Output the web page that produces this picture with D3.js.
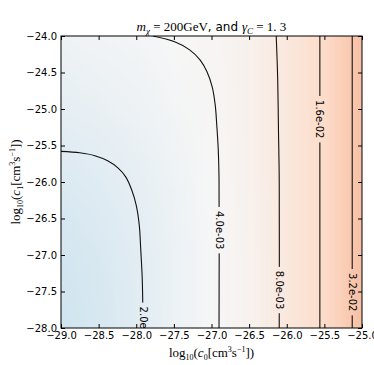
<!DOCTYPE html>
<html><head><meta charset="utf-8">
<script src="https://cdn.jsdelivr.net/npm/d3@7"></script>
<style>body{margin:0;background:#fff}svg{display:block}</style>
</head><body>
<script>
// ---- data ----
const c0Ticks = [-29.0,-28.5,-28.0,-27.5,-27.0,-26.5,-26.0,-25.5,-25.0];
const c1Ticks = [-24.0,-24.5,-25.0,-25.5,-26.0,-26.5,-27.0,-27.5,-28.0];

// background field: log10 value estimated at grid points (rows = c1, cols = c0)
const gridC0 = [-29.0,-28.5,-28.0,-27.5,-27.0,-26.5,-26.0,-25.5,-25.0];
const gridC1 = [-24,-25,-26,-27,-28];
const gridLogF = [
  [-2.62,-2.58,-2.53,-2.46,-2.40,-2.30,-2.08,-1.78,-1.38],
  [-2.78,-2.72,-2.64,-2.54,-2.43,-2.30,-2.08,-1.78,-1.38],
  [-2.98,-2.90,-2.78,-2.62,-2.46,-2.31,-2.08,-1.78,-1.38],
  [-3.12,-3.02,-2.86,-2.66,-2.48,-2.32,-2.08,-1.78,-1.38],
  [-3.18,-3.06,-2.88,-2.67,-2.48,-2.32,-2.08,-1.78,-1.38]
];

const contourLabels = ["2.0e-03","4.0e-03","8.0e-03","1.6e-02","3.2e-02"];
const contour2e3 = [[-29.00,-25.58],[-28.75,-25.60],[-28.55,-25.64],[-28.38,-25.71],[-28.24,-25.81],[-28.14,-25.93],[-28.06,-26.11],[-28.00,-26.32],[-27.96,-26.59],[-27.94,-26.93],[-27.92,-27.34],[-27.91,-28.00]];
const contour4e3 = [[-27.78,-24.00],[-27.49,-24.08],[-27.29,-24.19],[-27.15,-24.33],[-27.06,-24.49],[-26.99,-24.70],[-26.95,-24.95],[-26.93,-25.22],[-26.91,-25.56],[-26.90,-25.97],[-26.90,-28.00]];
const contour8e3 = [[-26.14,-24.00],[-26.12,-24.60],[-26.11,-25.29],[-26.10,-25.97],[-26.10,-28.00]];
const contour16e3 = [[-25.56,-24.00],[-25.56,-28.00]];
const contour32e3 = [[-25.13,-24.00],[-25.13,-28.00]];
const labelC0 = [-27.91,-26.90,-26.10,-25.56,-25.13];
const labelC1 = [-27.97,-26.66,-27.48,-25.14,-27.51];

// ---- drawing ----
const W=374,H=365,X0=61,X1=362,Y0=36,Y1=328;
const x = d3.scaleLinear().domain([-29,-25]).range([X0,X1]);
const y = d3.scaleLinear().domain([-24,-28]).range([Y0,Y1]);
const rdbuR = d3.schemeRdBu[11].slice().reverse();
const cmap = d3.scaleLinear().domain(d3.range(11).map(i=>i/10)).range(rdbuR).interpolate(d3.interpolateRgb).clamp(true);
const norm = d3.scaleLinear().domain([-6.03,1.11]).range([0,1]);

const svg = d3.select("body").append("svg").attr("width",W).attr("height",H);
const defs = svg.append("defs");
defs.append("clipPath").attr("id","plotclip").append("rect")
  .attr("x",X0).attr("y",Y0).attr("width",X1-X0).attr("height",Y1-Y0);

// heatmap via small canvas, smoothly scaled
const cv = document.createElement("canvas");
cv.width = gridC0.length; cv.height = gridC1.length;
const ctx = cv.getContext("2d");
gridLogF.forEach((row,j)=>row.forEach((v,i)=>{
  ctx.fillStyle = cmap(norm(v)); ctx.fillRect(i,j,1,1);
}));
const dc0 = gridC0[1]-gridC0[0], dc1 = gridC1[1]-gridC1[0];
svg.append("g").attr("clip-path","url(#plotclip)").append("image")
  .attr("href", cv.toDataURL())
  .attr("x", x(gridC0[0]-dc0/2)).attr("width", x(gridC0[gridC0.length-1]+dc0/2)-x(gridC0[0]-dc0/2))
  .attr("y", y(gridC1[0]-dc1/2)).attr("height", y(gridC1[gridC1.length-1]+dc1/2)-y(gridC1[0]-dc1/2))
  .attr("preserveAspectRatio","none");

// contour lines with gaps for labels
const fs = 10;
const mask = defs.append("mask").attr("id","lblmask").attr("maskUnits","userSpaceOnUse")
  .attr("x",0).attr("y",0).attr("width",W).attr("height",H);
mask.append("rect").attr("x",0).attr("y",0).attr("width",W).attr("height",H).attr("fill","#fff");
const line = d3.line().x(d=>x(d[0])).y(d=>y(d[1])).curve(d3.curveCatmullRom.alpha(0.5));
const cg = svg.append("g").attr("clip-path","url(#plotclip)");
const lines = cg.append("g").attr("mask","url(#lblmask)");
[contour2e3,contour4e3,contour8e3,contour16e3,contour32e3].forEach(c=>{
  lines.append("path").attr("d",line(c)).attr("fill","none").attr("stroke","#111").attr("stroke-width",1.1);
});
contourLabels.forEach((lab,i)=>{
  const px = x(labelC0[i]), py = y(labelC1[i]);
  const t = cg.append("text").attr("x",0).attr("y",0)
    .attr("transform",`translate(${px},${py}) rotate(90)`)
    .attr("text-anchor","middle").attr("dy","0.35em")
    .attr("font-family","DejaVu Sans").attr("font-size",fs).text(lab);
  const len = t.node().getComputedTextLength();
  mask.append("rect").attr("x",px-6).attr("y",py-len/2-4).attr("width",12).attr("height",len+8).attr("fill","#000");
});

// axes (ticks inward on all sides)
const fmt = d3.format(".1f");
const ax = svg.append("g").attr("transform",`translate(0,${Y1})`).call(d3.axisBottom(x).tickValues(c0Ticks).tickFormat(fmt).tickSize(-4).tickPadding(4));
const axT = svg.append("g").attr("transform",`translate(0,${Y0})`).call(d3.axisTop(x).tickValues(c0Ticks).tickFormat("").tickSize(-4));
const ay = svg.append("g").attr("transform",`translate(${X0},0)`).call(d3.axisLeft(y).tickValues(c1Ticks).tickFormat(fmt).tickSize(-4).tickPadding(4));
const ayR = svg.append("g").attr("transform",`translate(${X1},0)`).call(d3.axisRight(y).tickValues(c1Ticks).tickFormat("").tickSize(-4));
[ax,axT,ay,ayR].forEach(g=>{
  g.select(".domain").remove();
  g.selectAll("text").attr("font-family","DejaVu Sans").attr("font-size",10).attr("fill","#000");
  g.selectAll("line").attr("stroke","#000");
});
svg.append("rect").attr("x",X0).attr("y",Y0).attr("width",X1-X0).attr("height",Y1-Y0)
  .attr("fill","none").attr("stroke","#000").attr("stroke-width",1);

// title
const serif = "Liberation Serif";
const title = svg.append("text").attr("x",(X0+X1)/2).attr("y",31).attr("text-anchor","middle")
  .attr("font-size",13).attr("font-family",serif);
title.append("tspan").attr("font-style","italic").text("m");
title.append("tspan").attr("font-style","italic").attr("font-size",9).attr("dy",3).text("χ");
title.append("tspan").attr("dy",-3).text(" = 200GeV");
title.append("tspan").attr("font-family","DejaVu Sans").attr("font-size",12).text(", and ");
title.append("tspan").attr("font-style","italic").text("γ");
title.append("tspan").attr("font-style","italic").attr("font-size",9).attr("dy",3).text("C");
title.append("tspan").attr("dy",-3).text(" = 1. 3");

// axis labels
function logLabel(sel, idx){
  sel.append("tspan").text("log");
  sel.append("tspan").attr("font-size",8).attr("dy",3).text("10");
  sel.append("tspan").attr("dy",-3).text("(");
  sel.append("tspan").attr("font-style","italic").text("c");
  sel.append("tspan").attr("font-size",8).attr("dy",3).text(idx);
  sel.append("tspan").attr("dy",-3).text("[cm");
  sel.append("tspan").attr("font-size",8).attr("dy",-5).text("3");
  sel.append("tspan").attr("dy",5).text("s");
  sel.append("tspan").attr("font-size",8).attr("dy",-5).text("−1");
  sel.append("tspan").attr("dy",5).text("])");
}
const xl = svg.append("text").attr("x",(X0+X1)/2).attr("y",357).attr("text-anchor","middle")
  .attr("font-family",serif).attr("font-size",13);
logLabel(xl,"0");
const yl = svg.append("text").attr("transform",`translate(20,${(Y0+Y1)/2}) rotate(-90)`).attr("text-anchor","middle")
  .attr("font-family",serif).attr("font-size",13);
logLabel(yl,"1");
</script>
</body></html>
